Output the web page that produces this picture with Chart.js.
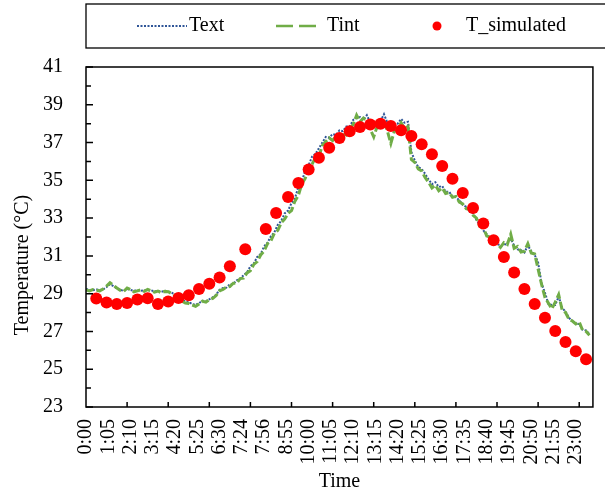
<!DOCTYPE html>
<html>
<head>
<meta charset="utf-8">
<script src="https://cdn.jsdelivr.net/npm/chart.js@4/dist/chart.umd.min.js"></script>
<style>
  html, body { margin: 0; padding: 0; background: #fff; overflow: hidden; }
  #wrap { width: 605px; height: 497px; overflow: hidden; }
</style>
</head>
<body>
<div id="wrap"><canvas id="tempChart" width="612" height="497"></canvas></div>
<script>
// x axis is the sample number of the logger (one label every 13 samples)
const timeLabels = ['0:00', '1:05', '2:10', '3:15', '4:20', '5:25', '6:30', '7:24', '7:56', '8:55',
  '10:00', '11:05', '12:10', '13:15', '14:20', '15:25', '16:30', '17:35', '18:40', '19:45',
  '20:50', '21:55', '23:00'];
const labelEvery = 13;
const tickEvery = 24;
const lastSample = 296;

// measured temperatures, one value every 2 samples
const measStep = 2;
const tExt = [
  29.25, 29.20, 29.18, 29.22, 29.20, 29.22, 29.35, 29.50, 29.40, 29.28,
  29.20, 29.15, 29.25, 29.20, 29.15, 29.18, 29.15, 29.18, 29.20, 29.18,
  29.12, 29.15, 29.10, 29.15, 29.12, 29.05, 28.95, 28.85, 28.70, 28.58,
  28.55, 28.45, 28.40, 28.50, 28.62, 28.60, 28.70, 28.80, 28.95, 29.20,
  29.30, 29.32, 29.50, 29.52, 29.70, 29.78, 29.98, 30.12, 30.45, 30.60,
  30.95, 31.10, 31.50, 31.70, 32.05, 32.25, 32.65, 32.85, 33.25, 33.40,
  33.80, 34.05, 34.65, 34.95, 35.50, 35.80, 36.25, 36.40, 36.70, 37.00,
  37.30, 37.25, 37.45, 37.40, 37.65, 37.60, 37.85, 37.85, 38.20, 38.30,
  38.35, 38.20, 38.45, 38.05, 37.95, 38.10, 38.15, 38.50, 38.05, 37.75,
  37.95, 38.00, 38.25, 38.05, 38.10, 36.50, 36.05, 35.70, 35.60, 35.35,
  35.05, 34.80, 34.90, 34.65, 34.70, 34.40, 34.40, 34.15, 34.10, 33.95,
  33.70, 33.60, 33.35, 33.25, 32.90, 32.65, 32.35, 32.15, 31.90, 31.85,
  31.60, 31.58, 31.55, 31.70, 31.90, 31.55, 31.35, 31.30, 31.18, 31.55,
  31.25, 31.05, 30.65, 29.55, 29.05, 28.45, 28.40, 28.40, 28.85, 28.25,
  28.05, 27.72, 27.55, 27.42, 27.40, 27.10, 27.05, 26.85
];
const tInt = [
  29.20, 29.15, 29.22, 29.18, 29.15, 29.25, 29.40, 29.58, 29.45, 29.30,
  29.18, 29.12, 29.30, 29.22, 29.10, 29.15, 29.20, 29.12, 29.22, 29.15,
  29.08, 29.14, 29.05, 29.12, 29.10, 29.00, 28.90, 28.78, 28.60, 28.50,
  28.48, 28.40, 28.33, 28.45, 28.60, 28.55, 28.68, 28.75, 28.90, 29.15,
  29.22, 29.35, 29.38, 29.55, 29.55, 29.80, 29.82, 30.10, 30.22, 30.55,
  30.70, 31.05, 31.25, 31.65, 31.80, 32.20, 32.35, 32.75, 32.95, 33.25,
  33.40, 33.90, 34.20, 34.80, 35.10, 35.60, 35.85, 36.20, 36.25, 36.85,
  37.05, 37.25, 37.10, 37.35, 37.20, 37.50, 37.40, 37.75, 37.95, 38.45,
  38.10, 38.30, 38.15, 37.70, 37.30, 37.85, 37.70, 38.20, 37.60, 36.95,
  37.60, 37.70, 38.05, 37.75, 37.85, 36.10, 35.95, 35.60, 35.50, 35.15,
  34.90, 34.60, 34.75, 34.45, 34.60, 34.30, 34.35, 34.10, 34.15, 33.85,
  33.75, 33.50, 33.45, 33.15, 33.00, 32.55, 32.50, 32.05, 32.00, 31.70,
  31.65, 31.45, 31.70, 31.60, 32.15, 31.40, 31.50, 31.20, 31.25, 31.65,
  31.15, 31.10, 30.30, 29.50, 28.80, 28.50, 28.20, 28.55, 28.95, 28.15,
  28.00, 27.65, 27.55, 27.40, 27.50, 27.05, 27.00, 26.80
];

// simulated temperature, every half hour
const simSample = [6, 12, 18, 24, 30, 36, 42, 48, 54, 60, 66, 72, 78, 84, 93, 105, 111, 118, 124, 130,
  136, 142, 148, 154, 160, 166, 172, 178, 184, 190, 196, 202, 208, 214, 220, 226, 232, 238, 244, 250,
  256, 262, 268, 274, 280, 286, 292];
const simTemp = [28.74, 28.53, 28.45, 28.51, 28.69, 28.76, 28.45, 28.58, 28.77, 28.91,
  29.25, 29.53, 29.85, 30.45, 31.35, 32.42, 33.27, 34.12, 34.86, 35.57,
  36.20, 36.73, 37.24, 37.60, 37.82, 37.95, 38.00, 37.88, 37.65, 37.35,
  36.91, 36.38, 35.76, 35.09, 34.33, 33.54, 32.71, 31.83, 30.94, 30.12,
  29.25, 28.45, 27.73, 27.02, 26.44, 25.95, 25.53];

const serif = "'Liberation Serif', 'Times New Roman', serif";
const font = { family: serif, size: 20 };

const extColor = '#2F5597';
const intColor = '#70AD47';
const simColor = '#FF0000';

function points(values, step) {
  return values.map((v, i) => ({ x: i * step, y: v }));
}

// frame, inward tick marks, y title and boxed legend
const decorations = {
  id: 'decorations',
  afterDraw(chart) {
    const ctx = chart.ctx;
    const a = chart.chartArea;
    const x = chart.scales.x;
    const y = chart.scales.y;
    ctx.save();

    ctx.strokeStyle = '#000';
    ctx.lineWidth = 1.5;
    ctx.setLineDash([]);
    ctx.strokeRect(a.left, a.top, a.right - a.left, a.bottom - a.top);

    ctx.beginPath();
    for (let v = y.min; v <= y.max; v++) {
      const py = y.getPixelForValue(v);
      const len = (v - y.min) % 2 === 0 ? 7 : 5;
      ctx.moveTo(a.left, py);
      ctx.lineTo(a.left + len, py);
    }
    for (let s = tickEvery; s < x.max; s += tickEvery) {
      const px = x.getPixelForValue(s);
      ctx.moveTo(px, a.bottom);
      ctx.lineTo(px, a.bottom - 5);
    }
    ctx.stroke();

    ctx.fillStyle = '#000';
    ctx.font = '20px ' + serif;
    ctx.textAlign = 'center';
    ctx.textBaseline = 'middle';
    ctx.save();
    ctx.translate(23, 265);
    ctx.rotate(-Math.PI / 2);
    ctx.fillText('Temperature (°C)', 0, 0);
    ctx.restore();

    // legend
    const ly = 26;
    ctx.lineWidth = 1.3;
    ctx.strokeRect(86, 4, 700, 44);

    ctx.strokeStyle = extColor;
    ctx.lineWidth = 2;
    ctx.setLineDash([2, 1.5]);
    ctx.beginPath();
    ctx.moveTo(137, ly);
    ctx.lineTo(187, ly);
    ctx.stroke();

    ctx.strokeStyle = intColor;
    ctx.lineWidth = 2.5;
    ctx.setLineDash([17, 6]);
    ctx.beginPath();
    ctx.moveTo(276, ly);
    ctx.lineTo(317, ly);
    ctx.stroke();
    ctx.setLineDash([]);

    ctx.fillStyle = simColor;
    ctx.beginPath();
    ctx.arc(437, ly, 4.5, 0, Math.PI * 2);
    ctx.fill();

    ctx.fillStyle = '#000';
    ctx.textAlign = 'left';
    ctx.fillText('Text', 189, ly);
    ctx.fillText('Tint', 327, ly);
    ctx.fillText('T_simulated', 466, ly);
    ctx.restore();
  }
};

const data = {
  datasets: [{
    label: 'T_simulated',
    type: 'scatter',
    data: simSample.map((s, i) => ({ x: s, y: simTemp[i] })),
    backgroundColor: simColor,
    borderWidth: 0,
    pointRadius: 6,
    order: 0
  }, {
    label: 'Tint',
    type: 'line',
    data: points(tInt, measStep),
    borderColor: intColor,
    borderWidth: 3,
    borderDash: [8, 3],
    pointRadius: 0,
    tension: 0,
    order: 1
  }, {
    label: 'Text',
    type: 'line',
    data: points(tExt, measStep),
    borderColor: extColor,
    borderWidth: 2,
    borderDash: [2, 1.5],
    pointRadius: 0,
    tension: 0,
    order: 2
  }]
};

const config = {
  type: 'line',
  data: data,
  options: {
    responsive: false,
    animation: false,
    layout: { padding: { top: 67, left: 0, right: 0, bottom: 0 } },
    plugins: {
      legend: { display: false },
      tooltip: { enabled: false }
    },
    scales: {
      x: {
        type: 'linear',
        min: 0,
        max: lastSample,
        afterBuildTicks: s => { s.ticks = timeLabels.map((t, i) => ({ value: i * labelEvery })); },
        afterFit: s => { s.height = 90; },
        grid: { display: false, drawTicks: false },
        border: { display: false },
        ticks: {
          autoSkip: false,
          maxRotation: 90,
          minRotation: 90,
          padding: 12,
          font: font,
          color: '#000',
          callback: (v, i) => timeLabels[i]
        },
        title: { display: true, text: 'Time', font: font, color: '#000', padding: { top: 0, bottom: 3 } }
      },
      y: {
        min: 23,
        max: 41,
        afterFit: s => { s.width = 86; },
        grid: { display: false, drawTicks: false },
        border: { display: false },
        ticks: { stepSize: 2, padding: 23, font: font, color: '#000' }
      }
    }
  },
  plugins: [decorations]
};

const myChart = new Chart(document.getElementById('tempChart'), config);
</script>
</body>
</html>
